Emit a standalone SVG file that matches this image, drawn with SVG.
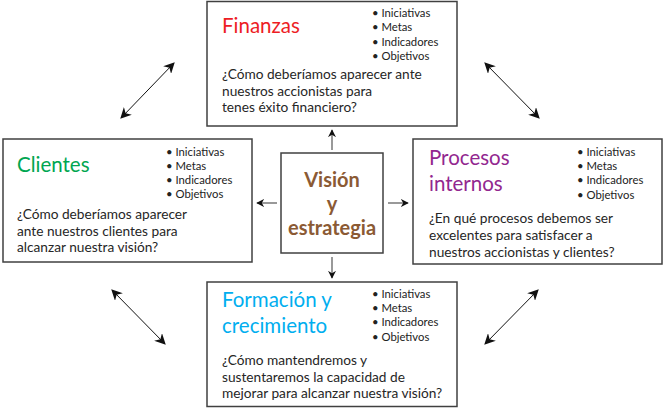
<svg xmlns="http://www.w3.org/2000/svg" width="665" height="408" viewBox="0 0 665 408">
<defs>
<style>
.box{fill:#fff;stroke:#404040;stroke-width:1.5}
.t{font-family:Lato,"Open Sans","Liberation Sans",sans-serif;font-size:20.5px}
.b{font-family:Lato,"Open Sans","Liberation Sans",sans-serif;font-size:11.3px;fill:#222}
.q{font-family:Lato,"Open Sans","Liberation Sans",sans-serif;font-size:13.7px;fill:#262626}
.c{font-family:Lato,"Open Sans","Liberation Sans",sans-serif;font-size:20px;font-weight:bold;fill:#8b5a34;text-anchor:middle}
.s{stroke:#777;stroke-width:1.5;fill:none}
.d{stroke:#111;stroke-width:1;fill:none}
</style>
<marker id="ah" viewBox="0 0 10 10" refX="9" refY="5" markerWidth="8" markerHeight="8" markerUnits="userSpaceOnUse" orient="auto-start-reverse">
<path d="M0,0 L10,5 L0,10 L3,5 Z" fill="#111"/>
</marker>
<marker id="ah2" viewBox="0 0 10 10" refX="9" refY="5" markerWidth="11" markerHeight="11" markerUnits="userSpaceOnUse" orient="auto-start-reverse">
<path d="M0,0 L10,5 L0,10 L3,5 Z" fill="#111"/>
</marker>
</defs>

<g id="connectors">
<line class="s" x1="332" y1="150" x2="332" y2="130" marker-end="url(#ah)"/>
<line class="s" x1="332" y1="257" x2="332" y2="278" marker-end="url(#ah)"/>
<line class="s" x1="277" y1="203" x2="257" y2="203" marker-end="url(#ah)"/>
<line class="s" x1="388" y1="203" x2="408" y2="203" marker-end="url(#ah)"/>
<line class="d" x1="121" y1="118" x2="174" y2="63" marker-start="url(#ah2)" marker-end="url(#ah2)"/>
<line class="d" x1="485" y1="63" x2="539" y2="118" marker-start="url(#ah2)" marker-end="url(#ah2)"/>
<line class="d" x1="112" y1="290" x2="165" y2="344" marker-start="url(#ah2)" marker-end="url(#ah2)"/>
<line class="d" x1="538" y1="290" x2="485" y2="344" marker-start="url(#ah2)" marker-end="url(#ah2)"/>
</g>

<g id="finanzas">
<rect class="box" x="207" y="1.5" width="250" height="124.5"/>
<text class="t" x="222" y="33" fill="#ed1c24">Finanzas</text>
<text class="b" x="372" y="17">• Iniciativas</text>
<text class="b" x="372" y="31">• Metas</text>
<text class="b" x="372" y="46">• Indicadores</text>
<text class="b" x="372" y="60">• Objetivos</text>
<text class="q" x="222" y="79">¿Cómo deberíamos aparecer ante</text>
<text class="q" x="222" y="95.5">nuestros accionistas para</text>
<text class="q" x="222" y="112">tenes éxito financiero?</text>
</g>

<g id="clientes">
<rect class="box" x="3" y="139" width="249" height="123"/>
<text class="t" x="17" y="172" fill="#00a651">Clientes</text>
<text class="b" x="166" y="156">• Iniciativas</text>
<text class="b" x="166" y="170">• Metas</text>
<text class="b" x="166" y="184">• Indicadores</text>
<text class="b" x="166" y="198">• Objetivos</text>
<text class="q" x="17" y="219">¿Cómo deberíamos aparecer</text>
<text class="q" x="17" y="235.5">ante nuestros clientes para</text>
<text class="q" x="17" y="252">alcanzar nuestra visión?</text>
</g>

<g id="procesos">
<rect class="box" x="413" y="139" width="249" height="125"/>
<text class="t" x="429" y="165" fill="#92278f">Procesos</text>
<text class="t" x="429" y="191" fill="#92278f">internos</text>
<text class="b" x="577" y="156">• Iniciativas</text>
<text class="b" x="577" y="170">• Metas</text>
<text class="b" x="577" y="184">• Indicadores</text>
<text class="b" x="577" y="199">• Objetivos</text>
<text class="q" x="429" y="223">¿En qué procesos debemos ser</text>
<text class="q" x="429" y="240">excelentes para satisfacer a</text>
<text class="q" x="429" y="257">nuestros accionistas y clientes?</text>
</g>

<g id="formacion">
<rect class="box" x="207" y="282" width="250" height="124.5"/>
<text class="t" x="222" y="307" fill="#00aeef">Formación y</text>
<text class="t" x="222" y="333" fill="#00aeef">crecimiento</text>
<text class="b" x="372" y="298">• Iniciativas</text>
<text class="b" x="372" y="312">• Metas</text>
<text class="b" x="372" y="326">• Indicadores</text>
<text class="b" x="372" y="341">• Objetivos</text>
<text class="q" x="222" y="365">¿Cómo mantendremos y</text>
<text class="q" x="222" y="381.5">sustentaremos la capacidad de</text>
<text class="q" x="222" y="398">mejorar para alcanzar nuestra visión?</text>
</g>

<g id="vision">
<rect class="box" x="281" y="153" width="102" height="100"/>
<text class="c" x="332" y="187">Visión</text>
<text class="c" x="332" y="211">y</text>
<text class="c" x="332" y="235">estrategia</text>
</g>
</svg>
